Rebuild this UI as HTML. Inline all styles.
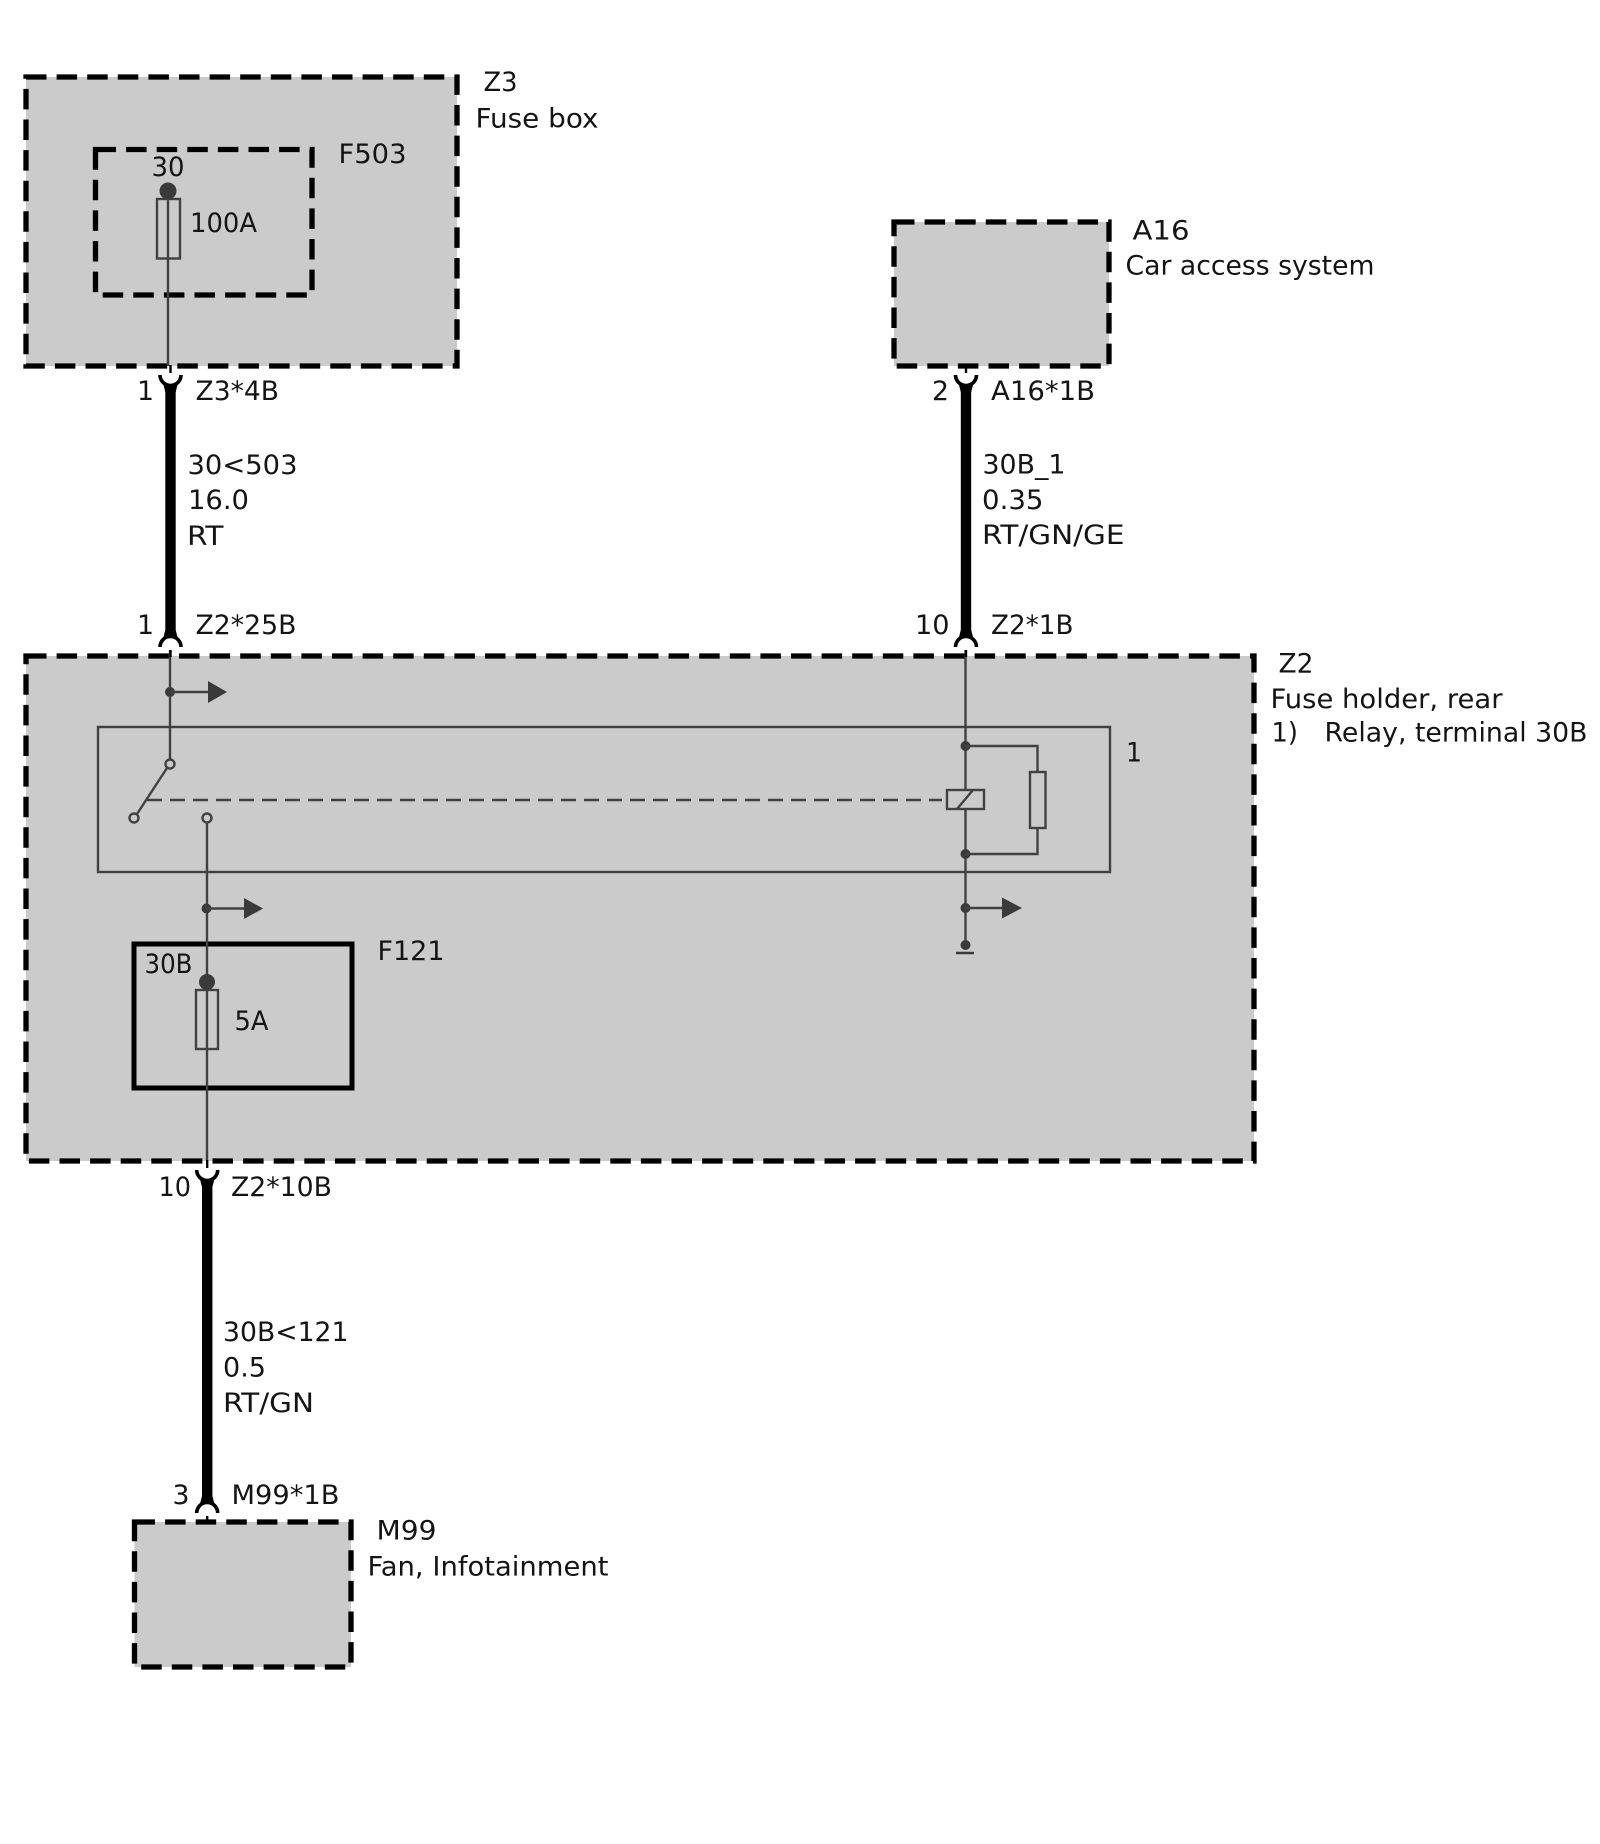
<!DOCTYPE html>
<html lang="en">
<head>
<meta charset="utf-8">
<title>Wiring diagram</title>
<style>
html,body{margin:0;padding:0;background:#fff;width:1600px;height:1844px;overflow:hidden}
svg{display:block}
text{font-family:"DejaVu Sans","Liberation Sans",sans-serif;font-size:26.5px;fill:#141414;white-space:pre}
.box{fill:#cbcbcb;stroke:#000;stroke-width:5.3;stroke-dasharray:20.5 10.1}
.thin{fill:none;stroke:#414141;stroke-width:2.4}
.dash{fill:none;stroke:#414141;stroke-width:2.4;stroke-dasharray:15 8}
.dot{fill:#3a3a3a}
.arc{fill:none;stroke:#000;stroke-width:3.6}
.stub{stroke:#000;stroke-width:2.4;fill:none}
.open{fill:#cbcbcb;stroke:#414141;stroke-width:2.4}
</style>
</head>
<body>
<svg width="1600" height="1844" viewBox="0 0 1600 1844" xmlns="http://www.w3.org/2000/svg">
<defs>
<g id="cup">
<path class="arc" d="M-10.5,0 A10.5 10.5 0 0 0 10.5,0"/>
<path d="M-8,6 L-5.2,17 H5.2 L8,6 L0,10.5 Z" fill="#000"/>
<path class="stub" d="M0,-10 V-2"/>
</g>
<g id="arch">
<path class="arc" d="M-10.5,0 A10.5 10.5 0 0 1 10.5,0"/>
<path d="M-8,-6 L-5.2,-17 H5.2 L8,-6 L0,-10.5 Z" fill="#000"/>
<path class="stub" d="M0,3 V10"/>
</g>
</defs>
<rect width="1600" height="1844" fill="#fff"/>

<!-- Z3 -->
<path class="box" d="M26,77 H457 V366 H26 Z"/>
<path class="box" d="M95.5,149.5 H312 V295 H95.5 Z"/>
<rect class="thin" x="157" y="199" width="23" height="59.5"/>
<path class="thin" d="M168,191 V366"/>
<circle class="dot" cx="168" cy="191" r="8.5"/>

<!-- A16 -->
<path class="box" d="M894,222 H1109 V366 H894 Z"/>

<!-- Z2 -->
<path class="box" d="M26,656 H1254 V1161 H26 Z"/>
<rect class="thin" x="98" y="727" width="1012" height="145"/>

<!-- Left feed and switch -->
<path class="thin" d="M170,650 V760"/>
<circle class="dot" cx="170" cy="692" r="5"/>
<path class="thin" d="M170,692 H210"/>
<path class="dot" d="M208,681 L227,692 L208,703 Z"/>
<path class="thin" d="M137,814 L167,768"/>
<circle class="open" cx="170" cy="764" r="4.5"/>
<circle class="open" cx="134" cy="818" r="4.5"/>
<circle class="open" cx="207" cy="818" r="4.5"/>
<path class="dash" d="M147,800 H942"/>

<!-- Lower branch and F121 -->
<rect x="134" y="944" width="218" height="144" fill="none" stroke="#000" stroke-width="5"/>
<path class="thin" d="M207,822.5 V1161"/>
<circle class="dot" cx="206.5" cy="908.5" r="5"/>
<path class="thin" d="M206.5,908.5 H246"/>
<path class="dot" d="M244,898 L263,908.5 L244,919 Z"/>
<rect class="thin" x="196" y="990" width="22" height="59"/>
<circle class="dot" cx="207" cy="982" r="8"/>

<!-- Relay coil and right side -->
<path class="thin" d="M965.5,650 V945"/>
<circle class="dot" cx="965.5" cy="746" r="5"/>
<circle class="dot" cx="965.5" cy="854" r="5"/>
<path class="thin" d="M965.5,746 H1037.5 V772 M1037.5,828 V854 H965.5"/>
<rect class="thin" x="1030" y="772" width="15.5" height="56" fill="#cbcbcb"/>
<rect class="open" x="947" y="790" width="37" height="19"/>
<path class="thin" d="M957,809 L973,790"/>
<circle class="dot" cx="965.5" cy="908" r="5"/>
<path class="thin" d="M965.5,908 H1004"/>
<path class="dot" d="M1002,897.5 L1022,908 L1002,918.5 Z"/>
<circle class="dot" cx="965.5" cy="945" r="5"/>
<path d="M956,953 H974" stroke="#3a3a3a" stroke-width="2.4" fill="none"/>

<!-- M99 -->
<path class="box" d="M134.5,1522 H351 V1667 H134.5 Z"/>

<!-- Thick wire 1 -->
<rect x="165.3" y="390" width="10.4" height="240" fill="#000"/>
<use href="#cup" x="170.5" y="375"/>
<use href="#arch" x="170.5" y="647"/>

<!-- Thick wire 2 -->
<rect x="960.8" y="390" width="10.4" height="240" fill="#000"/>
<use href="#cup" x="966" y="375"/>
<use href="#arch" x="966" y="647"/>

<!-- Thick wire 3 -->
<rect x="202" y="1185" width="10.4" height="312" fill="#000"/>
<use href="#cup" x="207.2" y="1170"/>
<use href="#arch" x="207.2" y="1513"/>

<!-- Labels -->
<text x="483.5" y="91" textLength="34" lengthAdjust="spacingAndGlyphs">Z3</text>
<text x="475.5" y="127.5" textLength="123" lengthAdjust="spacingAndGlyphs">Fuse box</text>
<text x="338.5" y="163" textLength="68" lengthAdjust="spacingAndGlyphs">F503</text>
<text x="151.5" y="176" textLength="33" lengthAdjust="spacingAndGlyphs">30</text>
<text x="190" y="232" textLength="67" lengthAdjust="spacingAndGlyphs">100A</text>
<text x="137" y="400" textLength="17" lengthAdjust="spacingAndGlyphs">1</text>
<text x="195.5" y="400" textLength="83.5" lengthAdjust="spacingAndGlyphs">Z3*4B</text>
<text x="187.5" y="474" textLength="110" lengthAdjust="spacingAndGlyphs">30&lt;503</text>
<text x="188" y="509" textLength="61" lengthAdjust="spacingAndGlyphs">16.0</text>
<text x="187" y="545" textLength="36.5" lengthAdjust="spacingAndGlyphs">RT</text>
<text x="137" y="634" textLength="17" lengthAdjust="spacingAndGlyphs">1</text>
<text x="195.5" y="634" textLength="101" lengthAdjust="spacingAndGlyphs">Z2*25B</text>

<text x="1132.5" y="239.5" textLength="57" lengthAdjust="spacingAndGlyphs">A16</text>
<text x="1125.5" y="274.5" textLength="249" lengthAdjust="spacingAndGlyphs">Car access system</text>
<text x="932" y="400" textLength="17" lengthAdjust="spacingAndGlyphs">2</text>
<text x="991" y="400" textLength="104" lengthAdjust="spacingAndGlyphs">A16*1B</text>
<text x="982.5" y="473.5" textLength="83" lengthAdjust="spacingAndGlyphs">30B_1</text>
<text x="982" y="509" textLength="61.5" lengthAdjust="spacingAndGlyphs">0.35</text>
<text x="982" y="544" textLength="142.5" lengthAdjust="spacingAndGlyphs">RT/GN/GE</text>
<text x="915" y="634" textLength="34.5" lengthAdjust="spacingAndGlyphs">10</text>
<text x="991" y="634" textLength="82.5" lengthAdjust="spacingAndGlyphs">Z2*1B</text>

<text x="1278.5" y="672.5" textLength="35" lengthAdjust="spacingAndGlyphs">Z2</text>
<text x="1270.5" y="708" textLength="232" lengthAdjust="spacingAndGlyphs">Fuse holder, rear</text>
<text x="1271.5" y="741.5" textLength="26.5" lengthAdjust="spacingAndGlyphs">1)</text>
<text x="1324.5" y="741.5" textLength="263" lengthAdjust="spacingAndGlyphs">Relay, terminal 30B</text>
<text x="1126" y="761.5" textLength="16" lengthAdjust="spacingAndGlyphs">1</text>

<text x="377.5" y="960" textLength="67" lengthAdjust="spacingAndGlyphs">F121</text>
<text x="144.5" y="973" textLength="48" lengthAdjust="spacingAndGlyphs">30B</text>
<text x="234.5" y="1030" textLength="34" lengthAdjust="spacingAndGlyphs">5A</text>

<text x="158.5" y="1196" textLength="32.5" lengthAdjust="spacingAndGlyphs">10</text>
<text x="231" y="1196" textLength="101" lengthAdjust="spacingAndGlyphs">Z2*10B</text>
<text x="223" y="1341" textLength="125.5" lengthAdjust="spacingAndGlyphs">30B&lt;121</text>
<text x="223" y="1376.5" textLength="43" lengthAdjust="spacingAndGlyphs">0.5</text>
<text x="223" y="1412" textLength="91" lengthAdjust="spacingAndGlyphs">RT/GN</text>
<text x="172.5" y="1504" textLength="17" lengthAdjust="spacingAndGlyphs">3</text>
<text x="231.5" y="1504" textLength="108" lengthAdjust="spacingAndGlyphs">M99*1B</text>
<text x="376.5" y="1539.5" textLength="60" lengthAdjust="spacingAndGlyphs">M99</text>
<text x="367.5" y="1575.5" textLength="241" lengthAdjust="spacingAndGlyphs">Fan, Infotainment</text>
</svg>
</body>
</html>
